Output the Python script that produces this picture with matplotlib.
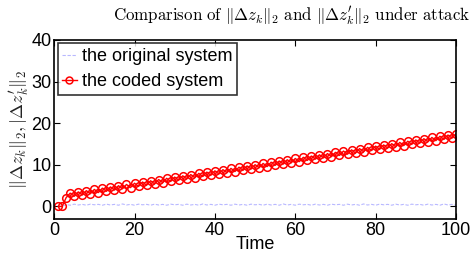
import numpy as np
import matplotlib
matplotlib.use('Agg')
import matplotlib.pyplot as plt

plt.rcParams['font.family'] = ['Liberation Sans', 'DejaVu Sans']
plt.rcParams['mathtext.fontset'] = 'cm'

# 时间步
time = np.arange(1, 101)

# 编码系统 ||dz'_k||_2
coded = [0.0, 0.0,
         2.15, 3.20, 2.45, 3.50, 2.74, 3.79, 3.04, 4.09,
         3.34, 4.39, 3.64, 4.69, 3.93, 4.98, 4.23, 5.28, 4.53, 5.58,
         4.82, 5.87, 5.12, 6.17, 5.42, 6.47, 5.71, 6.76, 6.01, 7.06,
         6.31, 7.36, 6.61, 7.66, 6.90, 7.95, 7.20, 8.25, 7.50, 8.55,
         7.79, 8.84, 8.09, 9.14, 8.39, 9.44, 8.68, 9.73, 8.98, 10.03,
         9.28, 10.33, 9.58, 10.63, 9.87, 10.92, 10.17, 11.22, 10.47, 11.52,
         10.76, 11.81, 11.06, 12.11, 11.36, 12.41, 11.65, 12.70, 11.95, 13.00,
         12.25, 13.30, 12.55, 13.60, 12.84, 13.89, 13.14, 14.19, 13.44, 14.49,
         13.73, 14.78, 14.03, 15.08, 14.33, 15.38, 14.62, 15.67, 14.92, 15.97,
         15.22, 16.27, 15.52, 16.57, 15.81, 16.86, 16.11, 17.16, 16.41, 17.46]

# 原系统 ||dz_k||_2
original = [0.0, 0.0,
            0.45, 0.30, 0.55, 0.35, 0.50, 0.30, 0.55, 0.40,
            0.50, 0.30, 0.55, 0.35, 0.50, 0.30, 0.60, 0.35, 0.50, 0.30,
            0.55, 0.40, 0.50, 0.30, 0.55, 0.35, 0.50, 0.30, 0.55, 0.40,
            0.50, 0.30, 0.55, 0.35, 0.50, 0.30, 0.60, 0.35, 0.50, 0.30,
            0.55, 0.40, 0.50, 0.30, 0.55, 0.35, 0.50, 0.30, 0.55, 0.40,
            0.50, 0.30, 0.55, 0.35, 0.50, 0.30, 0.60, 0.35, 0.50, 0.30,
            0.55, 0.40, 0.50, 0.30, 0.55, 0.35, 0.50, 0.30, 0.55, 0.40,
            0.50, 0.30, 0.55, 0.35, 0.50, 0.30, 0.60, 0.35, 0.50, 0.30,
            0.55, 0.40, 0.50, 0.30, 0.55, 0.35, 0.50, 0.30, 0.55, 0.40,
            0.50, 0.30, 0.55, 0.35, 0.50, 0.30, 0.60, 0.35, 0.50, 0.30]

labels = ['the original system', 'the coded system']

fig = plt.figure(figsize=(4.75, 2.54), dpi=100)
ax = fig.add_axes([0.114, 0.138, 0.846, 0.705])

ax.plot(time, original, color='#b8b8ff', lw=0.8, ls='--', dashes=(3, 1.5),
        label=labels[0])
ax.plot(time, coded, color='red', lw=1.0, marker='o', ms=5.5,
        mfc='none', mew=1.1, label=labels[1])

ax.set_xlim(0, 100)
ax.set_ylim(-3, 40)
ax.set_xticks([0, 20, 40, 60, 80, 100])
ax.set_yticks([0, 10, 20, 30, 40])
ax.tick_params(direction='in', top=True, right=True, length=4,
               labelsize=13, pad=2)
for s in ax.spines.values():
    s.set_linewidth(1.2)

ax.set_xlabel('Time', fontsize=13, labelpad=-2)
ax.set_ylabel(r"$\|\Delta z_k\|_2,|\Delta z_k^{\prime}\|_2$", fontsize=13,
              labelpad=0, color='#222222')
# 标题在原图中偏右
fig.text(0.615, 0.935,
         r"$\mathrm{Comparison\ of\ }\|\Delta z_k\|_2\mathrm{\ and\ }"
         r"\|\Delta z_k^{\prime}\|_2\mathrm{\ under\ attack}$",
         fontsize=12.2, ha='center', va='center')

leg = ax.legend(loc='upper left', fontsize=13, frameon=True, fancybox=False,
                borderaxespad=0.2, handlelength=0.8, handletextpad=0.3,
                borderpad=0.25, labelspacing=0.45, markerscale=0.9)
leg.get_frame().set_edgecolor('black')
leg.get_frame().set_linewidth(1.2)

fig.savefig('out.png', dpi=100)
